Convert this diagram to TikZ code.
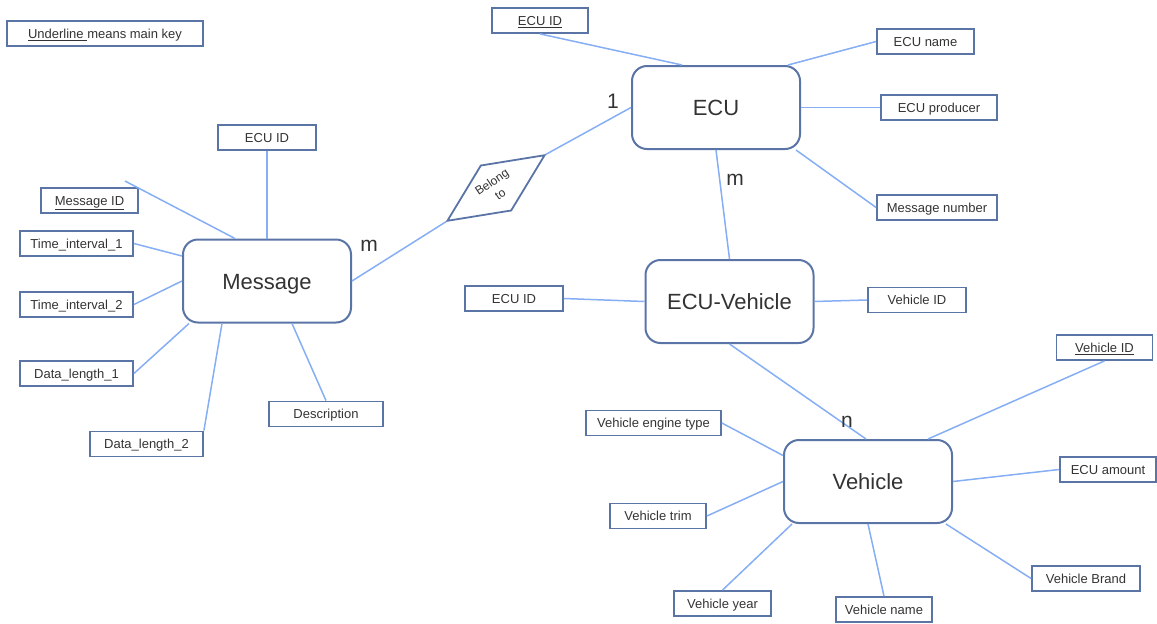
\documentclass[tikz,border=0pt]{standalone}
\usepackage{fontspec}
\setmainfont{Liberation Sans}
\usetikzlibrary{shapes.geometric}
\definecolor{boxc}{HTML}{5A74A6}
\definecolor{linkc}{HTML}{86AEF4}
\definecolor{txt}{HTML}{333333}

\begin{document}
\begin{tikzpicture}[x=1pt,y=-1pt,
  attr/.style={draw=boxc,line width=1.8pt,minimum height=25pt,inner sep=0pt,text height=9.4pt,text depth=0pt,text=txt,font=\fontsize{13}{15}\selectfont},
  entity/.style={draw=boxc,line width=2pt,rounded corners=15pt,minimum width=168pt,minimum height=83pt,text height=16pt,text depth=0pt,text=txt,font=\fontsize{22}{26}\selectfont},
  lnk/.style={draw=linkc,line width=1.5pt},
  card/.style={text=txt,font=\fontsize{21}{24}\selectfont}]
\useasboundingbox (0,0) rectangle (1157,624);

% legend
\node[attr,minimum width=196pt] (legend) at (105,33.5) {\underline{Underline\ }means main key};

% entities
\node[entity] (msg) at (267,281) {Message};
\node[entity] (ecu) at (716,107.5) {ECU};
\node[entity] (ecuveh) at (729.5,301.5) {ECU-Vehicle};
\node[entity] (veh) at (868,481.5) {Vehicle};

% relation
\node[draw=boxc,line width=1.8pt,shape=diamond,rotate=34,aspect=2.15,minimum width=118pt,minimum height=55pt,inner sep=0pt,
  text=txt,align=center,font=\fontsize{12}{15}\selectfont] (belong) at (496,188) {Belong\\to};

% message attributes
\node[attr,minimum width=98pt] (msgEcuId) at (267,137.5) {ECU ID};
\node[attr,minimum width=97pt] (msgId) at (89.5,200.5) {\underline{Message ID}};
\node[attr,minimum width=113pt] (ti1) at (76.5,243.5) {Time\_interval\_1};
\node[attr,minimum width=113pt] (ti2) at (76.5,304.5) {Time\_interval\_2};
\node[attr,minimum width=113pt] (dl1) at (76.5,373.5) {Data\_length\_1};
\node[attr,minimum width=113pt] (dl2) at (146.5,444) {Data\_length\_2};
\node[attr,minimum width=114pt] (desc) at (326,414) {Description};
\coordinate (msgIdEnd) at (125,181);

% ECU attributes
\node[attr,minimum width=96pt] (ecuId) at (540,20.5) {\underline{ECU ID}};
\node[attr,minimum width=97pt] (ecuName) at (925.5,41.5) {ECU name};
\node[attr,minimum width=116pt] (ecuProd) at (939,107.5) {ECU producer};
\node[attr,minimum width=120pt] (msgNum) at (937,207.5) {Message number};

% ECU-Vehicle attributes
\node[attr,minimum width=98pt] (evEcuId) at (514,298.5) {ECU ID};
\node[attr,minimum width=98pt] (evVehId) at (917,300) {Vehicle ID};

% vehicle attributes
\node[attr,minimum width=96pt] (vehId) at (1104.5,347.5) {\underline{Vehicle ID}};
\node[attr,minimum width=96pt] (ecuAmt) at (1108,469.5) {ECU amount};
\node[attr,minimum width=108pt] (vehBrand) at (1086,578.5) {Vehicle Brand};
\node[attr,minimum width=96pt] (vehName) at (884,609.5) {Vehicle name};
\node[attr,minimum width=97pt] (vehYear) at (722.5,603.5) {Vehicle year};
\node[attr,minimum width=96pt] (vehTrim) at (658,516) {Vehicle trim};
\node[attr,minimum width=135pt] (vehEngine) at (653.5,423) {Vehicle engine type};

% connectors
\draw[lnk] (msgIdEnd) -- ([xshift=-32pt]msg.north);
\draw[lnk] (msgEcuId.south) -- (msg.north);
\draw[lnk] (ti1.east) -- ([yshift=25pt]msg.west);
\draw[lnk] (ti2.east) -- (msg.west);
\draw[lnk] (dl1.east) -- ([xshift=7pt]msg.south west);
\draw[lnk] (dl2.north east) -- ([xshift=-45pt]msg.south);
\draw[lnk] (desc.north) -- ([xshift=25pt]msg.south);
\draw[lnk] (msg.east) -- (belong.west);
\draw[lnk] (belong.east) -- (ecu.west);

\draw[lnk] (ecuId.south) -- ([xshift=-34pt]ecu.north);
\draw[lnk] (ecuName.west) -- ([xshift=-13pt]ecu.north east);
\draw[lnk] (ecu.east) -- (ecuProd.west);
\draw[lnk] ([xshift=-5pt]ecu.south east) -- (msgNum.west);
\draw[lnk] (ecu.south) -- (ecuveh.north);

\draw[lnk] (evEcuId.east) -- (ecuveh.west);
\draw[lnk] (ecuveh.east) -- (evVehId.west);
\draw[lnk] (ecuveh.south) -- ([xshift=-2pt]veh.north);

\draw[lnk] (vehId.south) -- ([xshift=60pt]veh.north);
\draw[lnk] (ecuAmt.west) -- (veh.east);
\draw[lnk] (vehBrand.west) -- ([xshift=-7pt]veh.south east);
\draw[lnk] (vehName.north) -- (veh.south);
\draw[lnk] (vehYear.north) -- ([xshift=-76pt]veh.south);
\draw[lnk] (vehTrim.east) -- (veh.west);
\draw[lnk] (vehEngine.east) -- ([yshift=26pt]veh.west);

% cardinalities
\node[card] (cardMsg) at (369,246) {m};
\node[card] (cardEcu) at (613,101) {1};
\node[card] (cardEcuVeh) at (735,180) {m};
\node[card] (cardVeh) at (847,422) {n};
\end{tikzpicture}
\end{document}
